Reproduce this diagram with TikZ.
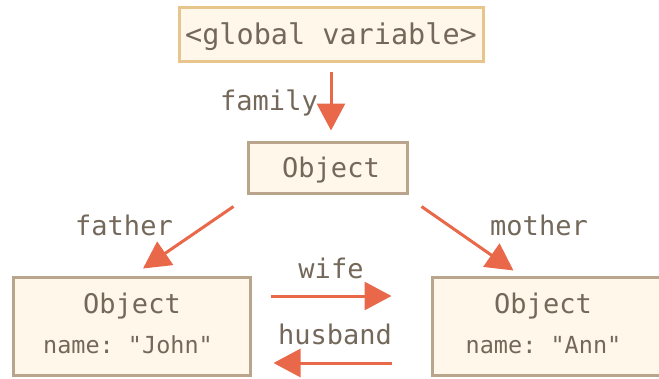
\documentclass[tikz,border=0pt]{standalone}
\usepackage{fontspec}
\setmonofont{DejaVu Sans Mono}
\usetikzlibrary{arrows.meta,calc}
\definecolor{ink}{HTML}{74685A}
\definecolor{boxfill}{HTML}{FFF8EA}
\definecolor{globline}{HTML}{E8C58D}
\definecolor{objline}{HTML}{B9A58B}
\definecolor{arrowred}{HTML}{E9684A}
\tikzset{
  globbox/.style={draw=globline, fill=boxfill, line width=3pt, inner sep=0pt,
    minimum width=304pt, minimum height=54pt},
  objbox/.style={draw=objline, fill=boxfill, line width=3pt, inner sep=0pt},
  txt/.style={text=ink, inner sep=0pt, anchor=base, font=\ttfamily\fontsize{27}{30}\selectfont},
  small/.style={txt, font=\ttfamily\fontsize{23.5}{26}\selectfont},
  ref/.style={draw=arrowred, line width=3pt, -{Triangle[length=27pt,width=28pt]}}
}
\begin{document}
\begin{tikzpicture}[x=1pt,y=-1pt]
  \useasboundingbox (0,0) rectangle (659,378);
  \clip (0,0) rectangle (659,378);

  % boxes
  \node[globbox] (glob) at (331,34.5) {};
  \node[txt, font=\ttfamily\fontsize{28.5}{31}\selectfont] (globT) at (331,44) {<global variable>};

  \node[objbox, minimum width=159pt, minimum height=51pt] (obj) at (327.5,167.5) {};
  \node[txt] (objT) at (331,177) {Object};

  \node[objbox, minimum width=237pt, minimum height=98pt] (john) at (131.5,326) {};
  \node[txt] (johnT) at (132,313) {Object};
  \node[small] (johnN) at (128,353) {name: "John"};

  \node[objbox, minimum width=237pt, minimum height=98pt] (ann) at (550.5,326) {};
  \node[txt] (annT) at (543,313) {Object};
  \node[small] (annN) at (543.5,353) {name: "Ann"};

  % references
  \draw[ref, shorten <=9pt, shorten >=10pt] (glob.south) -- (glob.south |- obj.north);
  \node[txt] (lfamily) at (269,110) {family};

  \draw[ref] ($(obj.south west)+(-13,12)$) -- ($(john.north)+(11.5,-7)$);
  \node[txt] (lfather) at (124,235) {father};

  \draw[ref] ($(obj.south east)+(13,12)$) -- ($(ann.north west)+(83,-5)$);
  \node[txt] (lmother) at (539,235) {mother};

  \draw[ref] ($(john.east)+(19,-30)$) -- ($(ann.west)+(-39,-30)$);
  \node[txt] (lwife) at (331,278) {wife};

  \draw[ref] ($(ann.west)+(-39,37)$) -- ($(john.east)+(22,37)$);
  \node[txt] (lhusband) at (335,344) {husband};
\end{tikzpicture}
\end{document}
